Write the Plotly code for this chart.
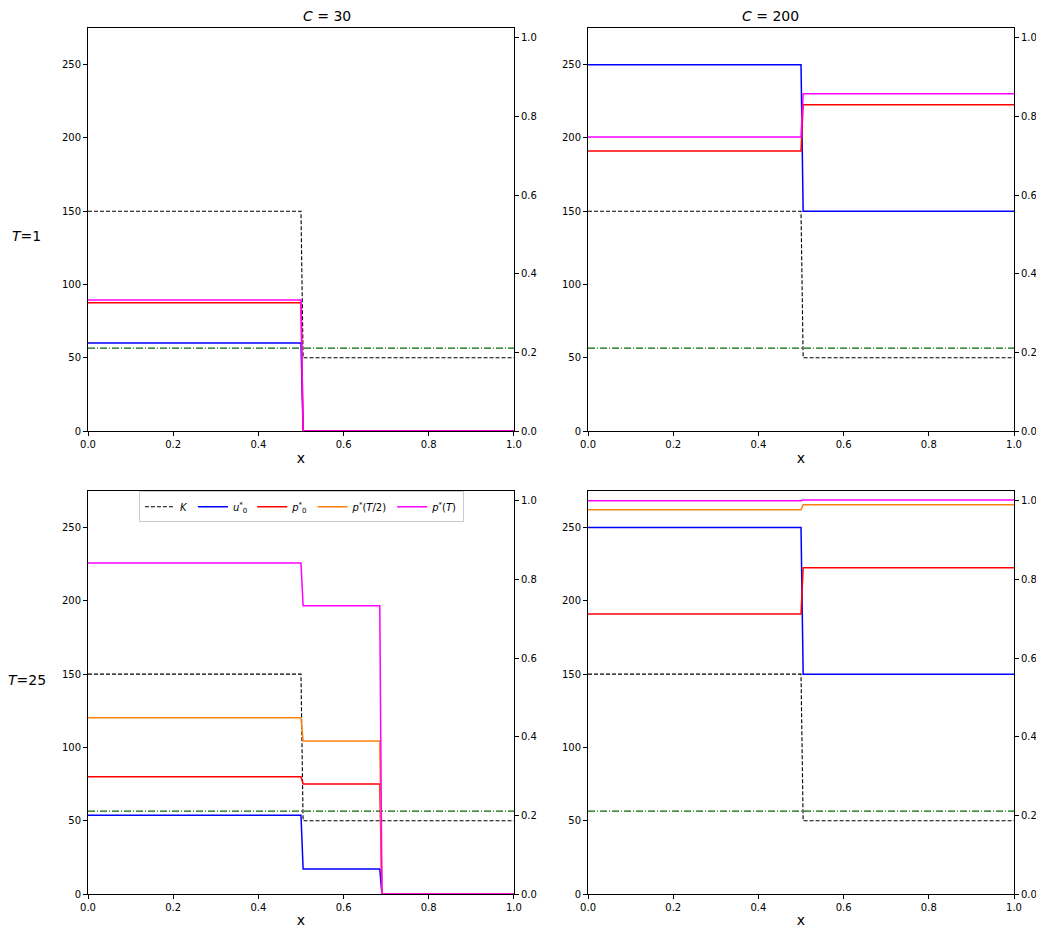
import plotly.graph_objects as go
from plotly.subplots import make_subplots

# Grid points where the profiles change (shared by all panels).
x = [0.0, 0.5, 0.505, 0.685, 0.69, 1.0]

col_titles = ["<i>C</i> = 30", "<i>C</i> = 200"]
row_titles = ["<i>T</i>=1", "<i>T</i>=25"]

# Capacity K (left axis), same in every panel.
K = [150, 150, 50, 50, 50, 50]

# Panel (1,1): T=1, C=30
u0_11 = [60, 60, 0, 0, 0, 0]
p0_11 = [0.326, 0.326, 0, 0, 0, 0]
pT_11 = [0.333, 0.333, 0, 0, 0, 0]

# Panel (1,2): T=1, C=200
u0_12 = [250, 250, 150, 150, 150, 150]
p0_12 = [0.712, 0.712, 0.830, 0.830, 0.830, 0.830]
pT_12 = [0.748, 0.748, 0.858, 0.858, 0.858, 0.858]

# Panel (2,1): T=25, C=30
u0_21 = [53.8, 53.8, 17, 17, 0, 0]
p0_21 = [0.298, 0.298, 0.280, 0.280, 0, 0]
pT2_21 = [0.448, 0.448, 0.389, 0.389, 0, 0]
pT_21 = [0.842, 0.842, 0.733, 0.733, 0, 0]

# Panel (2,2): T=25, C=200
u0_22 = [250, 250, 150, 150, 150, 150]
p0_22 = [0.712, 0.712, 0.830, 0.830, 0.830, 0.830]
pT2_22 = [0.977, 0.977, 0.990, 0.990, 0.990, 0.990]
pT_22 = [1.0, 1.0, 1.002, 1.002, 1.002, 1.002]

# Threshold level (right axis)
thresh = [0.211, 0.211]
thresh_x = [0.0, 1.0]

panels = {
    (1, 1): (u0_11, p0_11, None, pT_11),
    (1, 2): (u0_12, p0_12, None, pT_12),
    (2, 1): (u0_21, p0_21, pT2_21, pT_21),
    (2, 2): (u0_22, p0_22, pT2_22, pT_22),
}

fig = make_subplots(rows=2, cols=2,
                    specs=[[{"secondary_y": True}] * 2] * 2,
                    horizontal_spacing=0.08, vertical_spacing=0.069)

for (r, c), (u0, p0, pT2, pT) in panels.items():
    show = (r, c) == (2, 1)
    fig.add_trace(go.Scatter(x=thresh_x, y=thresh, mode="lines",
                             line=dict(color="#006a00", width=1.3, dash="7px,2px,1px,2px"),
                             showlegend=False),
                  row=r, col=c, secondary_y=True)
    fig.add_trace(go.Scatter(x=x, y=K, mode="lines", name="<i>K</i>",
                             line=dict(color="black", width=1.1, dash="4px,2px"),
                             showlegend=show),
                  row=r, col=c, secondary_y=False)
    fig.add_trace(go.Scatter(x=x, y=u0, mode="lines",
                             name="<i>u</i><sup>*</sup><sub>0</sub>",
                             line=dict(color="blue", width=1.5),
                             showlegend=show),
                  row=r, col=c, secondary_y=False)
    fig.add_trace(go.Scatter(x=x, y=p0, mode="lines",
                             name="<i>p</i><sup>*</sup><sub>0</sub>",
                             line=dict(color="red", width=1.5),
                             showlegend=show),
                  row=r, col=c, secondary_y=True)
    if pT2 is not None:
        fig.add_trace(go.Scatter(x=x, y=pT2, mode="lines",
                                 name="<i>p</i><sup>*</sup>(<i>T</i>/2)",
                                 line=dict(color="#ff7f0e", width=1.5),
                                 showlegend=show),
                      row=r, col=c, secondary_y=True)
    fig.add_trace(go.Scatter(x=x, y=pT, mode="lines",
                             name="<i>p</i><sup>*</sup>(<i>T</i>)",
                             line=dict(color="magenta", width=1.5),
                             showlegend=show),
                  row=r, col=c, secondary_y=True)

axis_style = dict(showline=True, linecolor="black", linewidth=1, showgrid=False,
                  zeroline=False, ticks="outside", ticklen=4, tickcolor="black",
                  tickfont=dict(size=10, color="black"), automargin=False)

fig.update_xaxes(range=[0, 1], dtick=0.2, tickformat=".1f", mirror=True,
                 title_text="x", title_font=dict(size=14, color="black"),
                 title_standoff=4, **axis_style)
fig.update_yaxes(range=[0, 275], dtick=50, secondary_y=False, **axis_style)
fig.update_yaxes(range=[0, 1.025], dtick=0.2, tickformat=".1f",
                 secondary_y=True, **axis_style)

# Place the panels like the original figure.
left, right = [0, 0.46], [0.54, 1]
top, bottom = [0.5346, 1], [0, 0.4654]
fig.update_layout(
    xaxis=dict(domain=left), xaxis2=dict(domain=right),
    xaxis3=dict(domain=left), xaxis4=dict(domain=right),
    yaxis=dict(domain=top), yaxis2=dict(domain=top),
    yaxis3=dict(domain=top), yaxis4=dict(domain=top),
    yaxis5=dict(domain=bottom), yaxis6=dict(domain=bottom),
    yaxis7=dict(domain=bottom), yaxis8=dict(domain=bottom),
)

for i, t in enumerate(col_titles):
    fig.add_annotation(text=t, x=[0.23, 0.77][i], y=1.0, xref="paper",
                       yref="paper", yanchor="bottom", yshift=2,
                       showarrow=False, font=dict(size=14, color="black"))
for i, t in enumerate(row_titles):
    fig.add_annotation(text=t, x=-0.066, y=[0.771, 0.235][i], xref="paper",
                       yref="paper", xanchor="center", showarrow=False,
                       font=dict(size=14, color="black"))

# The page body adds an 8px offset, so the figure is sized to fit inside it.
fig.update_layout(
    width=1028, height=920,
    margin=dict(l=80, r=22, t=20, b=34, autoexpand=False),
    plot_bgcolor="white", paper_bgcolor="white",
    font=dict(family="DejaVu Sans", color="black"),
    legend=dict(orientation="h", x=0.055, y=0.465, xanchor="left",
                yanchor="top", bordercolor="#cccccc", borderwidth=1,
                bgcolor="white", font=dict(size=10)),
)

fig.write_html("out.html")
